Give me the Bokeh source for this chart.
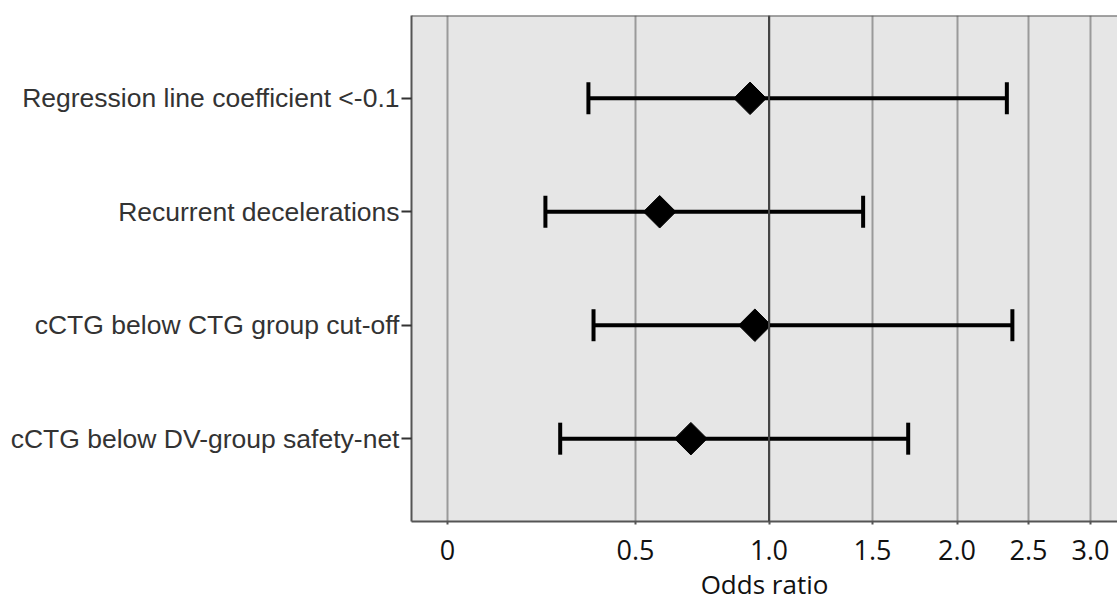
import numpy as np
from bokeh.plotting import figure
from bokeh.models import Range1d, FixedTicker, Span, Whisker, TeeHead, ColumnDataSource
from bokeh.embed import file_html
from bokeh.resources import INLINE

# ---- data ----
categories = [
    "Regression line coefficient <-0.1",
    "Recurrent decelerations",
    "cCTG below CTG group cut-off",
    "cCTG below DV-group safety-net",
]
odds_ratio = [0.92, 0.58, 0.94, 0.69]
ci_lower = [0.355, 0.235, 0.37, 0.275]
ci_upper = [2.34, 1.45, 2.38, 1.70]
x_ticks = [0, 0.5, 1.0, 1.5, 2.0, 2.5, 3.0]
x_tick_labels = ["0", "0.5", "1.0", "1.5", "2.0", "2.5", "3.0"]

# axis is scaled as log2(1 + OR)
def tr(v):
    return np.log2(1.0 + np.asarray(v, dtype=float))

rows = list(range(1, len(categories) + 1))
src = ColumnDataSource(dict(
    y=rows, x=tr(odds_ratio), lo=tr(ci_lower), hi=tr(ci_upper),
))

p = figure(frame_width=706, frame_height=506, output_backend="svg", toolbar_location=None,
           x_range=Range1d(-0.112, 2.084), y_range=Range1d(4.73, 0.27),
           min_border_left=411, min_border_top=15, min_border_right=0, min_border_bottom=80)
p.background_fill_color = "#e6e6e6"
p.border_fill_color = "white"
p.outline_line_color = None

# grid
p.ygrid.grid_line_color = None
p.xgrid.ticker = FixedTicker(ticks=list(tr(x_ticks)))
p.xgrid.grid_line_color = "#9a9a9a"
p.xgrid.grid_line_width = 2

ref = Span(location=float(tr([1.0])[0]), dimension="height", line_color="#444444", line_width=2)
p.add_layout(ref)
top = Span(location=0.27, dimension="width", line_color="#555555", line_width=2)
p.add_layout(top)

# x axis
p.xaxis.ticker = FixedTicker(ticks=list(tr(x_ticks)))
p.xaxis.major_label_overrides = {float(t): l for t, l in zip(tr(x_ticks), x_tick_labels)}
p.xaxis.axis_label = "Odds ratio"
p.xaxis.axis_label_text_font = "Open Sans"
p.xaxis.axis_label_text_font_size = "26px"
p.xaxis.axis_label_text_font_style = "normal"
p.xaxis.axis_label_text_color = "#111111"
p.xaxis.axis_label_standoff = 3
p.xaxis.major_label_text_font = "Open Sans"
p.xaxis.major_label_text_font_size = "27px"
p.xaxis.major_label_text_color = "#111111"
p.xaxis.major_label_standoff = 15
p.xaxis.major_tick_in = 0
p.xaxis.major_tick_out = 3
p.xaxis.minor_tick_line_color = None
p.xaxis.axis_line_color = "#555555"
p.xaxis.axis_line_width = 2
p.xaxis.major_tick_line_color = "#555555"
p.xaxis.major_tick_line_width = 2

# y axis
p.yaxis.ticker = FixedTicker(ticks=rows)
p.yaxis.major_label_overrides = {r: c for r, c in zip(rows, categories)}
p.yaxis.major_label_text_font = "Liberation Sans"
p.yaxis.major_label_text_font_size = "26.5px"
p.yaxis.major_label_text_color = "#333333"
p.yaxis.major_label_standoff = 2
p.yaxis.major_tick_in = 0
p.yaxis.major_tick_out = 10
p.yaxis.major_tick_line_color = "#333333"
p.yaxis.major_tick_line_width = 2
p.yaxis.minor_tick_line_color = None
p.yaxis.axis_line_color = "#555555"
p.yaxis.axis_line_width = 2

# error bars
w = Whisker(source=src, base="y", lower="lo", upper="hi", dimension="width",
            line_color="black", line_width=4,
            lower_head=TeeHead(size=32, line_width=4, line_color="black"),
            upper_head=TeeHead(size=32, line_width=4, line_color="black"))
p.add_layout(w)

# point estimates
p.scatter("x", "y", source=src, marker="square", size=23, angle=np.pi / 4,
          fill_color="black", line_color="black")

open("out.html", "w").write(file_html(p, INLINE))
